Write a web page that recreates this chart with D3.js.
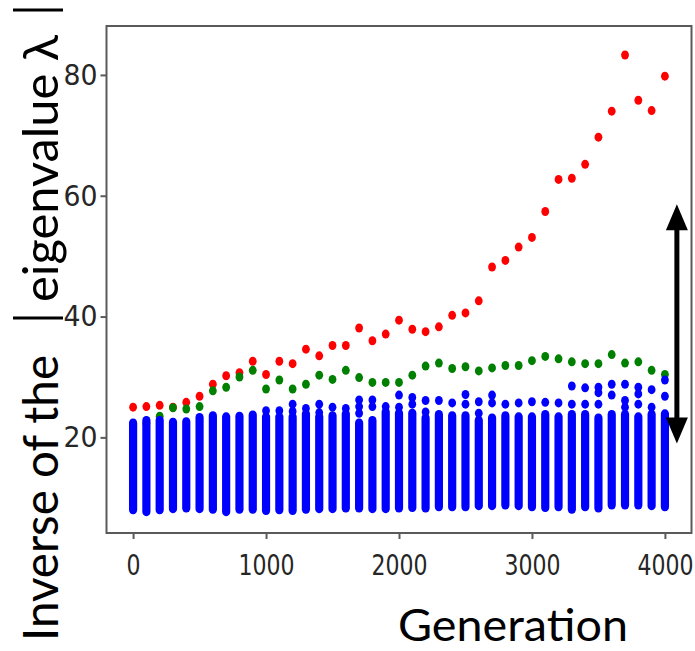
<!DOCTYPE html>
<html>
<head>
<meta charset="utf-8">
<script src="https://cdn.jsdelivr.net/npm/d3@7"></script>
<style>
  body { margin: 0; background: #fff; }
  svg { display: block; }
</style>
</head>
<body>
<div id="chart"></div>
<script>
// generations sampled every 100 steps
const generations = [0, 100, 200, 300, 400, 500, 600, 700, 800, 900, 1000,
  1100, 1200, 1300, 1400, 1500, 1600, 1700, 1800, 1900, 2000,
  2100, 2200, 2300, 2400, 2500, 2600, 2700, 2800, 2900, 3000,
  3100, 3200, 3300, 3400, 3500, 3600, 3700, 3800, 3900, 4000];

// largest value per generation (red)
const redValues = [25.0, 25.1, 25.3, 25.0, 25.8, 26.8, 28.8, 30.2, 30.7, 32.6, 30.4,
  32.6, 32.2, 34.6, 33.5, 35.2, 35.2, 38.1, 36.0, 37.1, 39.4,
  37.9, 37.5, 38.3, 40.2, 40.6, 42.6, 48.2, 49.3, 51.5, 53.1,
  57.4, 62.7, 62.9, 65.2, 69.7, 74.0, 83.3, 75.8, 74.1, 79.8];

// second value per generation (green)
const greenValues = [22.0, 22.3, 23.5, 24.9, 24.7, 25.1, 27.7, 28.3, 30.0, 31.1, 28.0,
  29.5, 28.0, 28.8, 30.3, 29.6, 31.1, 29.9, 29.1, 29.1, 29.1,
  30.3, 31.8, 32.3, 31.4, 31.7, 31.0, 31.5, 31.9, 31.9, 32.7,
  33.4, 33.0, 32.5, 32.2, 32.2, 33.7, 32.3, 32.5, 31.1, 30.4];

// rest of the spectrum (blue): dense band low..high plus loose points above it
const blueLow = [8.0, 7.7, 8.0, 8.2, 8.3, 8.2, 8.1, 7.7, 8.1, 8.1, 7.9,
  8.0, 7.9, 8.1, 8.2, 8.2, 8.3, 8.3, 8.2, 8.2, 8.3,
  8.4, 8.3, 8.5, 8.5, 8.5, 8.7, 8.7, 8.8, 8.7, 8.5,
  8.4, 8.5, 8.1, 8.5, 8.3, 8.8, 8.8, 8.8, 8.7, 8.5];
const blueHigh = [22.4, 22.8, 22.8, 22.5, 22.6, 23.3, 23.6, 23.4, 23.5, 23.7, 23.4,
  23.4, 23.4, 23.9, 23.4, 23.6, 23.9, 22.4, 22.8, 24.2, 24.0,
  24.0, 23.2, 23.8, 23.6, 23.6, 22.8, 23.2, 23.6, 23.4, 23.4,
  23.8, 23.4, 23.8, 23.8, 23.2, 23.8, 23.8, 23.4, 23.8, 23.9];
const blueExtra = [[], [], [], [], [], [], [], [], [], [], [24.4],
  [24.4], [24.3, 25.5], [24.8], [24.1, 25.5], [25.0], [24.8], [24.0, 25.1, 26.2], [25.1, 26.2], [25.1], [25.0, 27.0],
  [25.5, 26.6], [24.2, 26.1], [26.1], [25.7], [25.5, 27.1], [24.0, 25.9], [25.7, 27.0], [25.5], [25.7], [25.9],
  [25.8], [25.7], [25.5, 28.5], [25.5, 28.2], [25.5, 27.4, 28.3], [27.0, 28.8], [25.0, 26.1, 28.8], [25.5, 27.2, 28.3], [25.0, 27.9], [26.8, 29.5]];

const xTicks = [0, 1000, 2000, 3000, 4000];
const yTicks = [20, 40, 60, 80];

// double arrow annotation, in data units
const arrowGen = 4090;
const arrowTop = 58.6;
const arrowBottom = 19.0;

const W = 695, H = 651;
const svg = d3.select("#chart").append("svg")
  .attr("width", W)
  .attr("height", H);

const x = d3.scaleLinear().domain([-200, 4200]).range([106.5, 691.5]);
const y = d3.scaleLinear().domain([4.17, 88.1]).range([533, 26]);

const rx = 3.9, ry = 4.5; // dots are slightly taller than wide

// red
svg.append("g").selectAll("ellipse")
  .data(generations.map((g, i) => ({ g: g, v: redValues[i] })))
  .join("ellipse")
  .attr("cx", d => x(d.g))
  .attr("cy", d => y(d.v))
  .attr("rx", rx)
  .attr("ry", ry)
  .attr("fill", "#ff0000");

// green
svg.append("g").selectAll("ellipse")
  .data(generations.map((g, i) => ({ g: g, v: greenValues[i] })))
  .join("ellipse")
  .attr("cx", d => x(d.g))
  .attr("cy", d => y(d.v))
  .attr("rx", rx)
  .attr("ry", ry)
  .attr("fill", "#008000");

// blue bands
svg.append("g").selectAll("rect")
  .data(generations.map((g, i) => ({ g: g, lo: blueLow[i], hi: blueHigh[i] })))
  .join("rect")
  .attr("x", d => x(d.g) - rx - 0.2)
  .attr("y", d => y(d.hi) - ry)
  .attr("width", 2 * rx + 0.4)
  .attr("height", d => y(d.lo) - y(d.hi) + 2 * ry)
  .attr("rx", rx)
  .attr("ry", ry)
  .attr("fill", "#0000ff");

// blue loose points
const extras = [];
generations.forEach((g, i) => {
  blueExtra[i].forEach(v => extras.push({ g: g, v: v }));
});
svg.append("g").selectAll("ellipse")
  .data(extras)
  .join("ellipse")
  .attr("cx", d => x(d.g))
  .attr("cy", d => y(d.v))
  .attr("rx", rx)
  .attr("ry", ry)
  .attr("fill", "#0000ff");

// frame
svg.append("rect")
  .attr("x", x(-200))
  .attr("y", y(88.1))
  .attr("width", x(4200) - x(-200))
  .attr("height", y(4.17) - y(88.1))
  .attr("fill", "none")
  .attr("stroke", "#5a5a5a")
  .attr("stroke-width", 2);

// axes
const xAxis = svg.append("g")
  .attr("transform", `translate(0,${y(4.17)})`)
  .call(d3.axisBottom(x).tickValues(xTicks).tickSize(6).tickPadding(15).tickFormat(d3.format("d")));
const yAxis = svg.append("g")
  .attr("transform", `translate(${x(-200)},0)`)
  .call(d3.axisLeft(y).tickValues(yTicks).tickSize(6).tickPadding(3).tickFormat(d3.format("d")));

[xAxis, yAxis].forEach(ax => {
  ax.select(".domain").remove();
  ax.selectAll(".tick line").attr("stroke", "#5a5a5a").attr("stroke-width", 2);
  ax.selectAll(".tick text")
    .attr("fill", "#262626")
    .style("font-family", "'DejaVu Sans', sans-serif")
    .style("font-size", "29px");
});
xAxis.selectAll(".tick text")
  .attr("textLength", d => String(d).length * 14)
  .attr("lengthAdjust", "spacingAndGlyphs");
yAxis.selectAll(".tick text")
  .attr("textLength", d => String(d).length * 17)
  .attr("lengthAdjust", "spacingAndGlyphs");

// arrow
const ax0 = x(arrowGen), yTop = y(arrowTop), yBot = y(arrowBottom);
const headW = 11, headL = 26;
svg.append("line")
  .attr("x1", ax0).attr("x2", ax0)
  .attr("y1", yTop + headL - 2).attr("y2", yBot - headL + 2)
  .attr("stroke", "#000").attr("stroke-width", 5);
svg.append("path")
  .attr("d", `M${ax0},${yTop} L${ax0 + headW},${yTop + headL} L${ax0 - headW},${yTop + headL} Z`)
  .attr("fill", "#000");
svg.append("path")
  .attr("d", `M${ax0},${yBot} L${ax0 + headW},${yBot - headL} L${ax0 - headW},${yBot - headL} Z`)
  .attr("fill", "#000");

// axis titles
const labelFont = "Lato, 'Open Sans', sans-serif";
svg.append("text")
  .attr("x", 398)
  .attr("y", 641)
  .attr("textLength", 230)
  .attr("lengthAdjust", "spacingAndGlyphs")
  .style("font-family", labelFont)
  .style("font-size", "45px")
  .attr("fill", "#000")
  .text("Generation");

const yl = svg.append("g").attr("transform", "translate(58,0) rotate(-90)");
yl.append("text")
  .attr("x", -641)
  .attr("y", 0)
  .attr("textLength", 286)
  .attr("lengthAdjust", "spacingAndGlyphs")
  .style("font-family", labelFont)
  .style("font-size", "48px")
  .text("Inverse of the");
yl.append("text")
  .attr("x", -302)
  .attr("y", 0)
  .attr("textLength", 267)
  .attr("lengthAdjust", "spacingAndGlyphs")
  .style("font-family", labelFont)
  .style("font-size", "48px")
  .text("eigenvalue \u03bb");
// the two bars of |λ|
[-318, -10].forEach(p => {
  yl.append("line")
    .attr("x1", p).attr("x2", p)
    .attr("y1", -45).attr("y2", 5)
    .attr("stroke", "#000").attr("stroke-width", 3.2);
});
</script>
</body>
</html>
